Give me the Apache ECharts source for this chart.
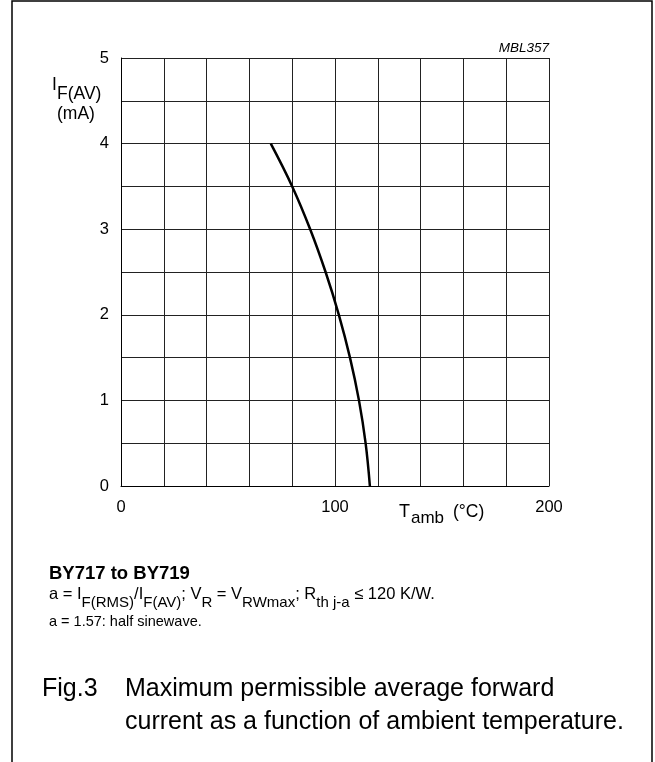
<!DOCTYPE html>
<html>
<head>
<meta charset="utf-8">
<script src="https://cdn.jsdelivr.net/npm/echarts@6/dist/echarts.min.js"></script>
<style>
  html, body { margin: 0; padding: 0; background: #fff; }
  #chart { width: 655px; height: 762px; }
</style>
</head>
<body>
<div id="chart"></div>
<script>
// derating curve: max average forward current vs ambient temperature
const TEMP = [70, 80, 88.4, 95.6, 101.8, 107, 111.2, 114.3, 116.3];
const CURRENT = [4, 3.5, 3, 2.5, 2, 1.5, 1, 0.5, 0];
const X_LABELS = [0, 100, 200];
const Y_LABELS = [0, 1, 2, 3, 4, 5];

const FONT = '"Liberation Sans", Arial, Helvetica, sans-serif';
const INK = '#000';

const chart = echarts.init(document.getElementById('chart'), null, { renderer: 'canvas' });

// rich styles: n = normal, s = subscript (bottom of a taller line box, so it sits lower)
const richFor = (size, subSize, lineH) => ({
  n: { fontSize: size, fontFamily: FONT, color: INK, lineHeight: lineH, verticalAlign: 'top' },
  s: { fontSize: subSize, fontFamily: FONT, color: INK, lineHeight: subSize + 1, verticalAlign: 'bottom' },
});

const txt = (x, y, text, extra = {}) => ({
  type: 'text', x, y, silent: true,
  style: Object.assign({ text, fill: INK, font: `14px ${FONT}` }, extra),
});

const option = {
  animation: false,
  grid: { left: 121, top: 58, width: 428, height: 428, containLabel: false },
  xAxis: {
    type: 'value', min: 0, max: 200, interval: 20,
    axisLine: { show: true, onZero: false, lineStyle: { color: INK, width: 1 } },
    axisTick: { show: false },
    splitLine: { show: true, lineStyle: { color: '#222', width: 1 } },
    axisLabel: {
      margin: 13, color: INK, fontSize: 16.5, fontFamily: FONT,
      formatter: (v) => (X_LABELS.includes(v) ? String(v) : ''),
    },
  },
  yAxis: {
    type: 'value', min: 0, max: 5, interval: 0.5,
    axisLine: { show: true, onZero: false, lineStyle: { color: INK, width: 1 } },
    axisTick: { show: false },
    splitLine: { show: true, lineStyle: { color: '#222', width: 1 } },
    axisLabel: {
      margin: 12, color: INK, fontSize: 16.5, fontFamily: FONT,
      formatter: (v) => (Y_LABELS.includes(v) ? String(v) : ''),
    },
  },
  series: [{
    type: 'line', smooth: 0.4, symbol: 'none',
    lineStyle: { color: INK, width: 2.5 },
    data: TEMP.map((t, i) => [t, CURRENT[i]]),
  }],
  graphic: [
    // frame
    { type: 'rect', silent: true, shape: { x: 12, y: 1, width: 640, height: 800 },
      style: { fill: 'none', stroke: INK, lineWidth: 1.5 } },
    txt(549, 41, 'MBL357', { font: `italic 13.5px ${FONT}`, align: 'right' }),
    // y axis name
    txt(52, 76, 'I', { font: `17.5px ${FONT}` }),
    txt(57, 85, 'F(AV)', { font: `17.5px ${FONT}` }),
    txt(57, 105, '(mA)', { font: `17.5px ${FONT}` }),
    // x axis name
    txt(399, 503, 'T', { font: `18px ${FONT}` }),
    txt(411, 510, 'amb', { font: `17px ${FONT}` }),
    txt(453, 503, '(°C)', { font: `17.5px ${FONT}` }),
    // notes
    txt(49, 564, 'BY717 to BY719', { font: `bold 18.5px ${FONT}` }),
    {
      type: 'text', x: 49, y: 585.5, silent: true,
      style: {
        text: '{n|a = I}{s|F(RMS)}{n|/I}{s|F(AV)}{n|; V}{s|R}{n| = V}{s|RWmax}{n|; R}{s|th j-a}{n| ≤ 120 K/W.}',
        rich: richFor(16.5, 15, 25),
      },
    },
    txt(49, 614, 'a = 1.57: half sinewave.', { font: `14.5px ${FONT}` }),
    // caption
    txt(42, 677, 'Fig.3', { font: `25px ${FONT}` }),
    txt(125, 677, 'Maximum permissible average forward', { font: `25px ${FONT}` }),
    txt(125, 710, 'current as a function of ambient temperature.', { font: `25px ${FONT}` }),
  ],
};

chart.setOption(option);
</script>
</body>
</html>
